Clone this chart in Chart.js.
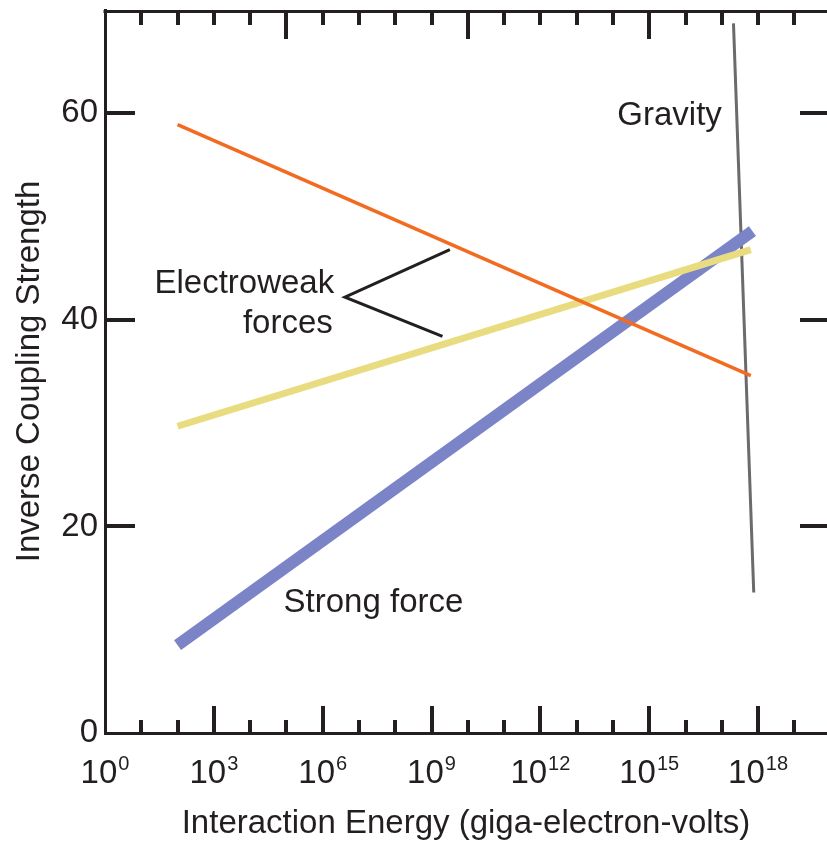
<!DOCTYPE html>
<html lang="en">
<head>
<meta charset="utf-8">
<title>Inverse Coupling Strength</title>
<script src="https://cdn.jsdelivr.net/npm/chart.js@4.4.1/dist/chart.umd.min.js"></script>
<style>
  html, body { margin: 0; padding: 0; background: #ffffff; }
  #box { width: 827px; height: 841px; }
</style>
</head>
<body>
<div id="box"><canvas id="coupling" width="827" height="841"></canvas></div>
<script>
// energies in GeV (log axis), strengths
const forceEnergies = [1e2, 6.3e17];
const electroweakOrange = [58.9, 34.6];
const electroweakYellow = [29.7, 46.8];
const strongEnergies = [1e2, 7e17];
const strongForce = [8.5, 48.6];
const gravityEnergies = [2.1e17, 7.6e17];
const gravity = [68.7, 13.6];
const pointerEnergies = [3.2e9, 4.1e6, 2.0e9];
const pointer = [46.8, 42.2, 38.4];

const yTicks = [0, 20, 40, 60];
const decades = [0, 1, 2, 3, 4, 5, 6, 7, 8, 9, 10, 11, 12, 13, 14, 15, 16, 17, 18, 19];
const labelledDecades = [0, 3, 6, 9, 12, 15, 18];

const INK = '#231f20';
const FONT = '"Liberation Sans", Arial, sans-serif';
const SIZE = 33;

function pts(xs, ys) {
  return xs.map((x, i) => ({ x: x, y: ys[i] }));
}

// text placed on the plot: centre energy (log10) and baseline strength
const noteSpots = [
  { text: 'Gravity', e: 15.56, v: 58.9 },
  { text: 'Electroweak', e: 3.84, v: 42.6 },
  { text: 'forces', e: 5.04, v: 38.7 },
  { text: 'Strong force', e: 7.40, v: 11.7 }
];

const frame = {
  id: 'frame',
  afterDatasetsDraw(chart) {
    const { ctx, chartArea: a, scales: { x, y } } = chart;
    ctx.save();
    ctx.strokeStyle = INK;
    ctx.lineWidth = 3;
    ctx.beginPath();
    ctx.moveTo(a.left - 1.5, a.top + 1.5);
    ctx.lineTo(a.right, a.top + 1.5);
    ctx.stroke();

    ctx.lineWidth = 4;
    decades.forEach(d => {
      if (d === 0) return;
      const px = Math.round(x.getPixelForValue(Math.pow(10, d)));
      const low = d % 3 === 0 ? 27 : 13;
      const high = d % 5 === 0 ? 29 : 15;
      ctx.beginPath();
      ctx.moveTo(px, a.bottom);
      ctx.lineTo(px, a.bottom - low);
      ctx.moveTo(px, a.top);
      ctx.lineTo(px, a.top + high);
      ctx.stroke();
    });
    yTicks.forEach(v => {
      if (v === 0) return;
      const py = Math.round(y.getPixelForValue(v));
      ctx.beginPath();
      ctx.moveTo(a.left, py);
      ctx.lineTo(a.left + 30, py);
      ctx.moveTo(a.right - 27, py);
      ctx.lineTo(a.right, py);
      ctx.stroke();
    });

    // x tick labels, 10 with a raised exponent
    ctx.fillStyle = INK;
    ctx.textAlign = 'left';
    ctx.textBaseline = 'alphabetic';
    labelledDecades.forEach(d => {
      const px = x.getPixelForValue(Math.pow(10, d));
      ctx.font = SIZE + 'px ' + FONT;
      const wb = ctx.measureText('10').width;
      ctx.font = '20px ' + FONT;
      const we = ctx.measureText(String(d)).width;
      const left = px - (wb + we + 1) / 2;
      ctx.font = SIZE + 'px ' + FONT;
      ctx.fillText('10', left, a.bottom + 50);
      ctx.font = '20px ' + FONT;
      ctx.fillText(String(d), left + wb + 1, a.bottom + 37);
    });

    // labels inside the plot
    ctx.font = SIZE + 'px ' + FONT;
    ctx.textAlign = 'center';
    noteSpots.forEach(n => {
      ctx.fillText(n.text, x.getPixelForValue(Math.pow(10, n.e)), y.getPixelForValue(n.v));
    });
    ctx.restore();
  }
};

const line = { pointRadius: 0, fill: false, tension: 0 };

new Chart(document.getElementById('coupling'), {
  type: 'line',
  data: {
    datasets: [
      Object.assign({ label: 'Electroweak', data: pts(forceEnergies, electroweakOrange), borderColor: '#f26b21', borderWidth: 3.5 }, line),
      Object.assign({ label: 'Electroweak', data: pts(forceEnergies, electroweakYellow), borderColor: '#e9dc80', borderWidth: 7 }, line),
      Object.assign({ label: 'Strong force', data: pts(strongEnergies, strongForce), borderColor: '#7a84c6', borderWidth: 12 }, line),
      Object.assign({ label: 'Gravity', data: pts(gravityEnergies, gravity), borderColor: '#6b6b6b', borderWidth: 3 }, line),
      Object.assign({ label: 'pointer', data: pts(pointerEnergies, pointer), borderColor: INK, borderWidth: 3, borderJoinStyle: 'miter' }, line)
    ]
  },
  options: {
    responsive: false,
    devicePixelRatio: 1,
    animation: false,
    layout: { padding: { top: 10, left: 0, right: 0, bottom: 0 } },
    plugins: { legend: { display: false }, tooltip: { enabled: false } },
    scales: {
      x: {
        type: 'logarithmic',
        min: 1,
        max: Math.pow(10, 19.9),
        afterBuildTicks: s => { s.ticks = decades.map(d => ({ value: Math.pow(10, d) })); },
        afterFit: s => { s.height = 108; s.paddingLeft = 0; s.paddingRight = 0; },
        grid: { display: false, drawTicks: false },
        border: { display: true, color: INK, width: 3 },
        ticks: { display: false },
        title: {
          display: true,
          text: 'Interaction Energy (giga-electron-volts)',
          color: INK,
          font: { family: FONT, size: SIZE },
          padding: { top: 0, bottom: -3 }
        }
      },
      y: {
        min: 0,
        max: 70,
        afterBuildTicks: s => { s.ticks = yTicks.map(v => ({ value: v })); },
        afterFit: s => { s.width = 105; s.paddingTop = 0; s.paddingBottom = 0; },
        grid: { display: false, drawTicks: false },
        border: { display: true, color: INK, width: 3 },
        ticks: { color: INK, font: { family: FONT, size: SIZE }, padding: 7 },
        title: {
          display: true,
          text: 'Inverse Coupling Strength',
          color: INK,
          font: { family: FONT, size: SIZE },
          padding: { top: 10, bottom: 0 }
        }
      }
    }
  },
  plugins: [frame]
});
</script>
</body>
</html>
